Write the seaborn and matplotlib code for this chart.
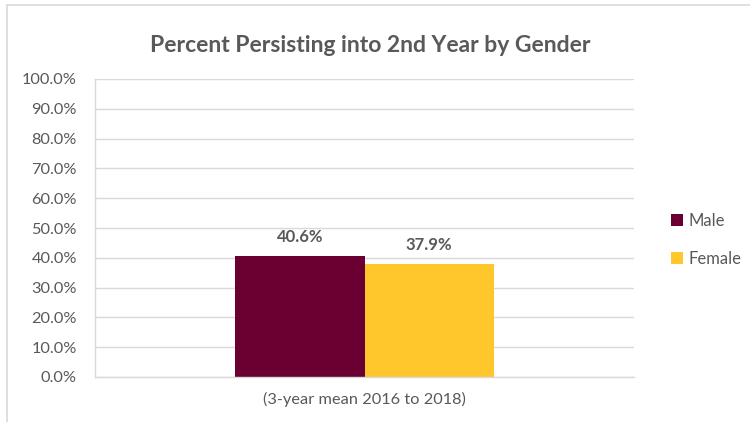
import matplotlib
import matplotlib.pyplot as plt
import pandas as pd
import seaborn as sns
from matplotlib.lines import Line2D
from matplotlib.ticker import FuncFormatter, MultipleLocator

matplotlib.use("Agg")

# data
category = ["(3-year mean 2016 to 2018)"]
genders = ["Male", "Female"]
persist_pct = [40.6, 37.9]

colors = {"Male": "#6A0032", "Female": "#FFC72C"}
text_gray = "#595959"
grid_gray = "#D9D9D9"

sns.set_theme(style="white")
plt.rcParams["font.family"] = ["Lato", "DejaVu Sans"]

df = pd.DataFrame(
    {"cohort": category * len(genders), "gender": genders, "pct": persist_pct}
)

fig = plt.figure(figsize=(7.5, 4.22), dpi=100)
ax = fig.add_axes([95 / 750, 45 / 422, (634 - 95) / 750, (377 - 79) / 422])

sns.barplot(
    data=df,
    x="cohort",
    y="pct",
    hue="gender",
    hue_order=genders,
    palette=colors,
    width=0.48,
    saturation=1,
    linewidth=0,
    ax=ax,
)

for container in ax.containers:
    ax.bar_label(
        container,
        labels=[f"{v:.1f}%" for v in container.datavalues],
        padding=8,
        fontsize=12,
        fontweight="bold",
        color=text_gray,
    )

ax.set_ylim(0, 100)
ax.yaxis.set_major_locator(MultipleLocator(10))
ax.yaxis.set_major_formatter(FuncFormatter(lambda v, _: f"{v:.1f}%"))
ax.grid(axis="y", color=grid_gray, linewidth=1)
ax.set_axisbelow(True)
ax.set_xlabel("")
ax.set_ylabel("")
ax.tick_params(axis="both", colors=text_gray, labelsize=11.8, length=0)
ax.tick_params(axis="x", pad=11)
ax.tick_params(axis="y", pad=13)

for side in ["top", "right"]:
    ax.spines[side].set_visible(False)
for side in ["left", "bottom"]:
    ax.spines[side].set_color(grid_gray)
    ax.spines[side].set_linewidth(1)

ax.legend(
    loc="center left",
    bbox_to_anchor=(1.04, 0.46),
    frameon=False,
    fontsize=12,
    labelcolor=text_gray,
    handlelength=0.75,
    handleheight=0.75,
    handletextpad=0.35,
    labelspacing=1.35,
)

fig.suptitle(
    "Percent Persisting into 2nd Year by Gender",
    x=370 / 750,
    y=1 - 45 / 422,
    va="center",
    fontsize=16.5,
    fontweight="bold",
    color=text_gray,
)

# chart frame (left and top edges visible in the reference)
fig.add_artist(Line2D([7 / 750, 7 / 750], [0, 1 - 5 / 422], color=grid_gray, lw=1.2))
fig.add_artist(Line2D([7 / 750, 1], [1 - 5 / 422, 1 - 5 / 422], color=grid_gray, lw=1.2))

fig.savefig("out.png", dpi=100)
plt.close(fig)
